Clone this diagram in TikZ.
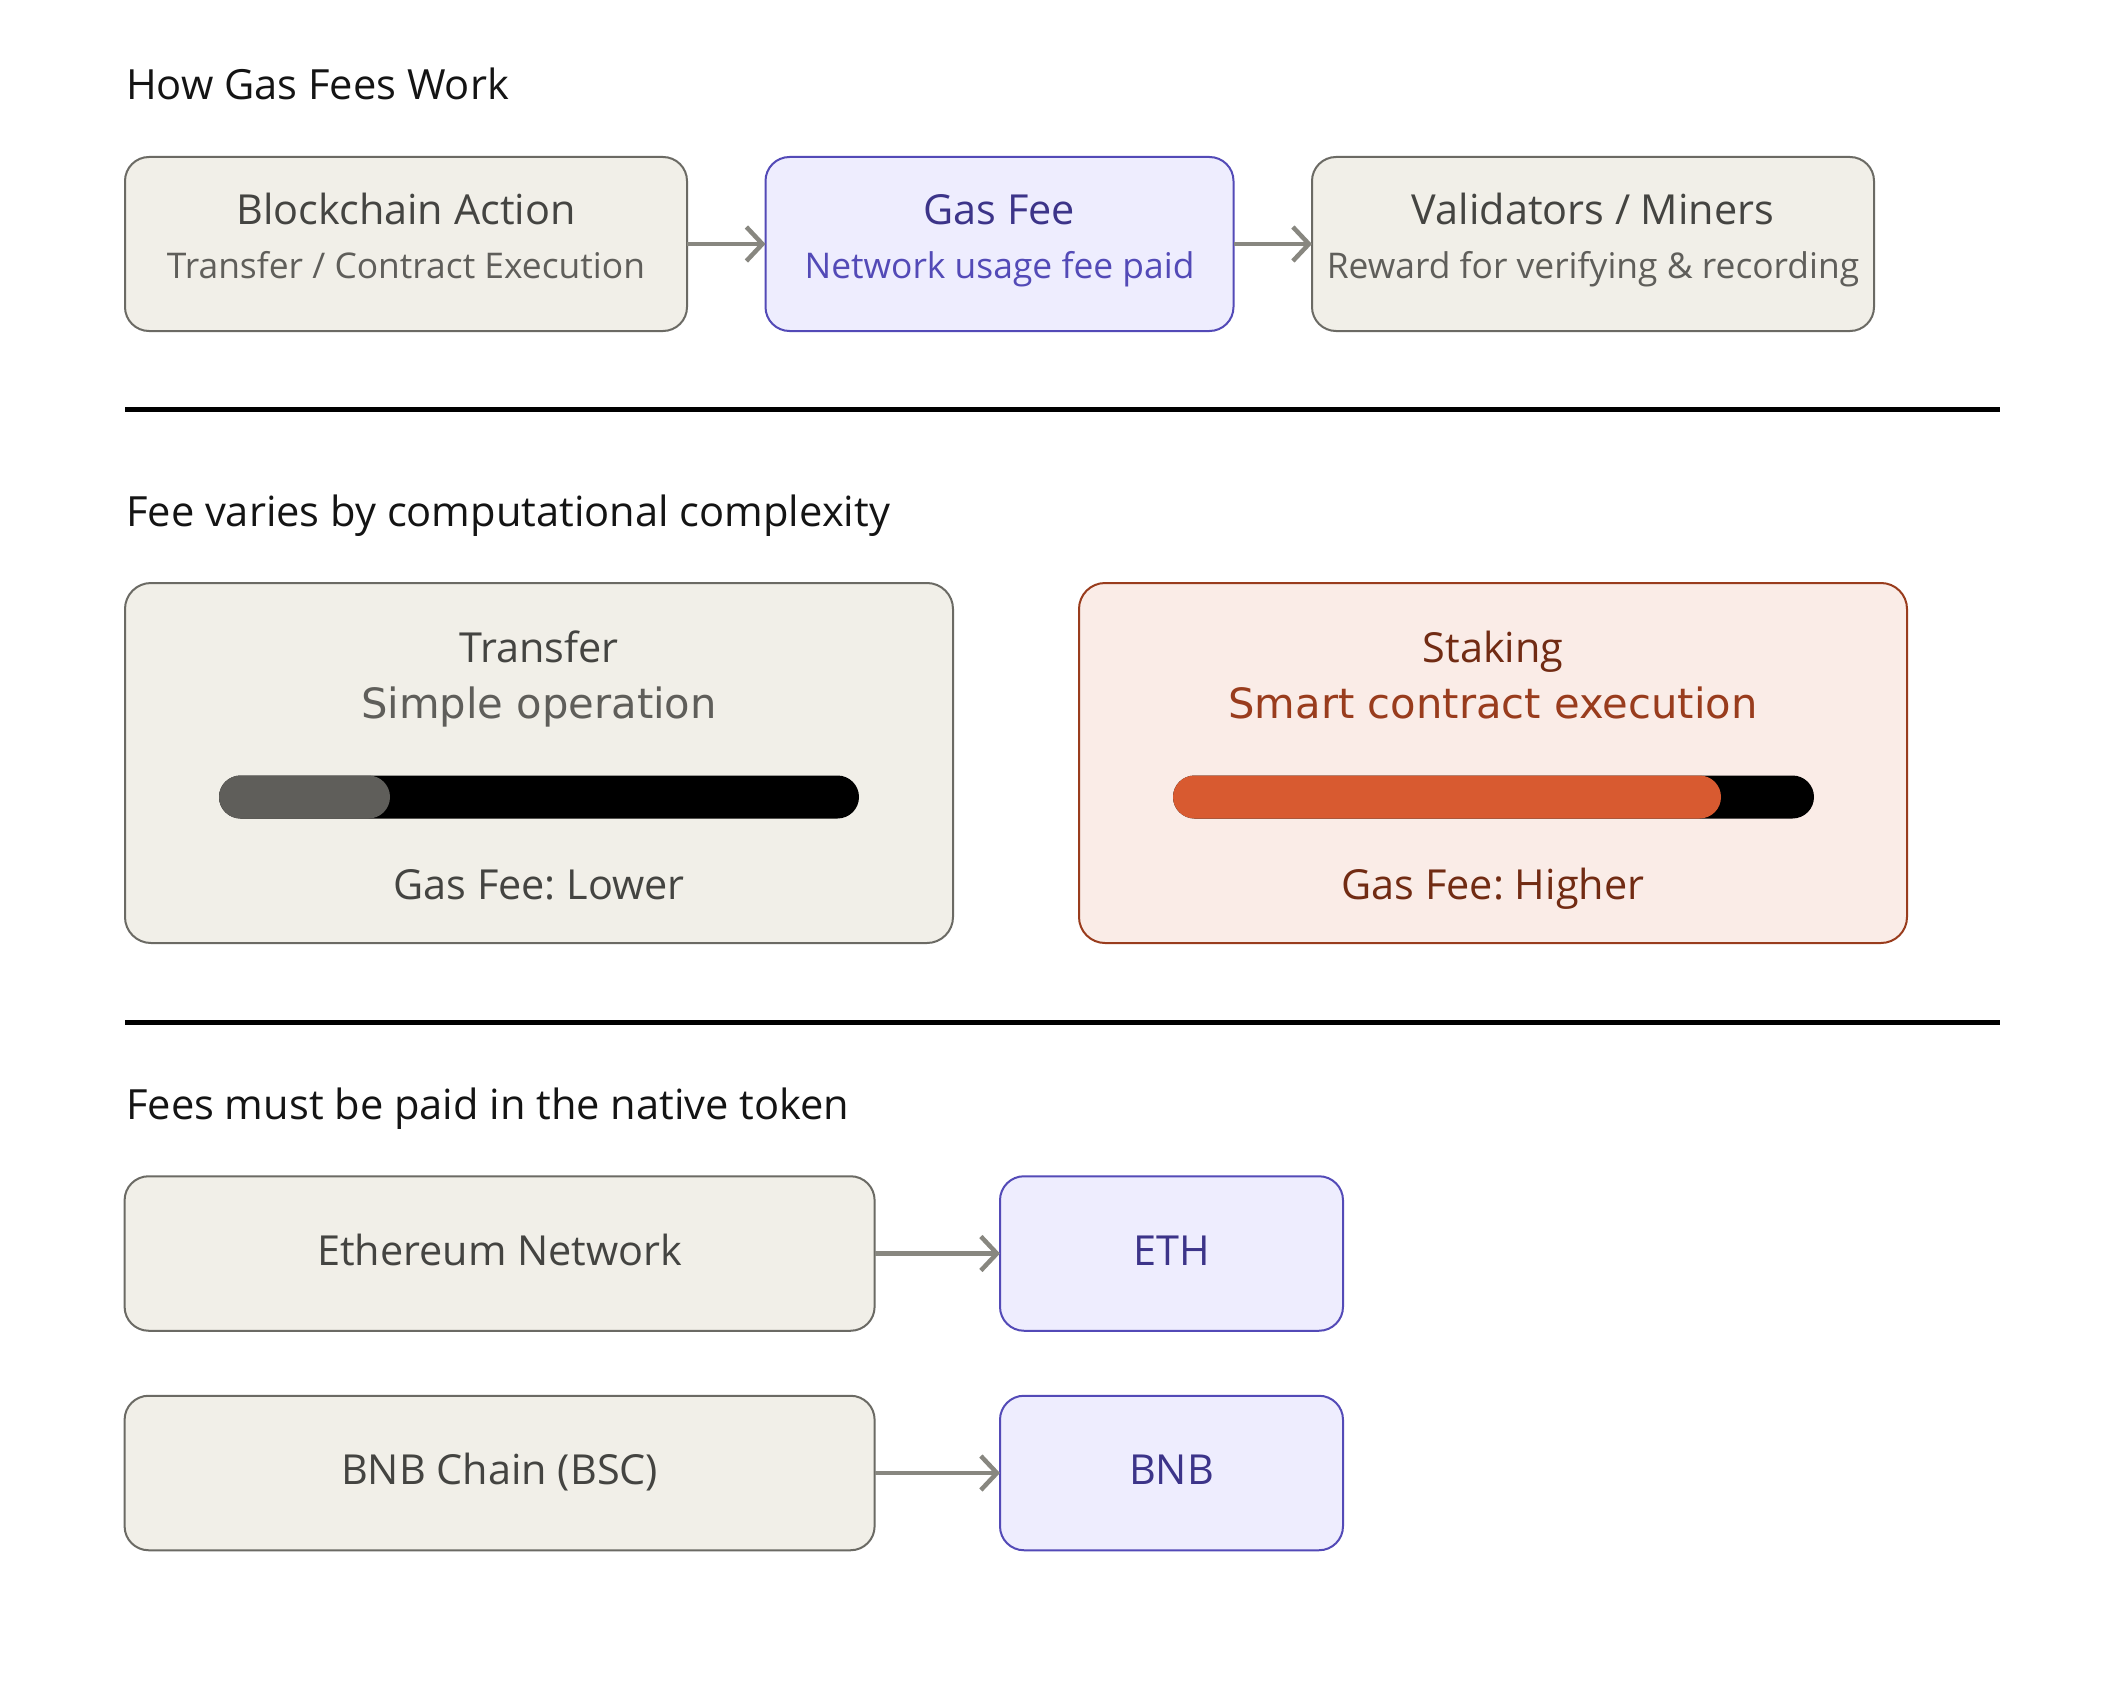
\documentclass[tikz,border=0pt]{standalone}
\usepackage{fontspec}
\setmainfont{Open Sans}
\newfontfamily\dvs{DejaVu Sans}
\usetikzlibrary{arrows.meta}
\frenchspacing
\definecolor{nfill}{HTML}{F1EFE8}
\definecolor{nline}{HTML}{6B6A64}
\definecolor{ntext}{HTML}{444441}
\definecolor{nsub}{HTML}{5F5E5A}
\definecolor{pfill}{HTML}{EEEDFE}
\definecolor{pline}{HTML}{534AB7}
\definecolor{ptext}{HTML}{3C3489}
\definecolor{cfill}{HTML}{FAECE7}
\definecolor{cline}{HTML}{993C1D}
\definecolor{ctext}{HTML}{712B13}
\definecolor{cbar}{HTML}{D85A30}
\definecolor{arrowc}{HTML}{888780}
\definecolor{titlec}{HTML}{141414}
\tikzset{
  boxbase/.style={rectangle, rounded corners=24pt, line width=2pt, inner sep=0pt, outer sep=0pt},
  nbox/.style={boxbase, draw=nline, fill=nfill},
  pbox/.style={boxbase, draw=pline, fill=pfill},
  cbox/.style={boxbase, draw=cline, fill=cfill, rounded corners=26pt},
  bigt/.style={font=\frenchspacing\fontsize{41.4}{48}\selectfont, anchor=base, inner sep=0pt},
  subt/.style={font=\frenchspacing\fontsize{35.4}{42}\selectfont, anchor=base, inner sep=0pt},
  dvt/.style={font=\frenchspacing\dvs\fontsize{41.7}{48}\selectfont, anchor=base, inner sep=0pt},
  sectitle/.style={font=\frenchspacing\fontsize{41.6}{48}\selectfont, anchor=base west, inner sep=0pt, text=titlec},
  flow/.style={draw=arrowc, line width=4.5pt, -{Straight Barb[length=16pt,width=34pt,line width=4.5pt]}},
  sep/.style={line width=5pt, black},
}
\begin{document}
\begin{tikzpicture}[x=1pt,y=-1pt]
\useasboundingbox (0,0) rectangle (2125,1688);
\fill[white] (0,0) rectangle (2125,1688);

% Section 1
\node[sectitle] (t1) at (126,100) {How Gas Fees Work};
\node[nbox, minimum width=562pt, minimum height=174pt] (b1) at (406,244) {};
\node[pbox, minimum width=468pt, minimum height=174pt] (b2) at (999.5,244) {};
\node[nbox, minimum width=562pt, minimum height=174pt] (b3) at (1593,244) {};
\node[bigt, text=ntext] (b1a) at (406,225) {Blockchain Action};
\node[subt, text=nsub] (b1b) at (406,279) {Transfer / Contract Execution};
\node[bigt, text=ptext] (b2a) at (999.5,225) {Gas Fee};
\node[subt, text=pline] (b2b) at (999.5,279) {Network usage fee paid};
\node[bigt, text=ntext] (b3a) at (1593,225) {Validators / Miners};
\node[subt, text=nsub] (b3b) at (1593,279) {Reward for verifying \& recording};
\draw[flow] (b1.east) -- (b2.west);
\draw[flow] (b2.east) -- (b3.west);

\coordinate (s1a) at (125,409);
\coordinate (s1b) at (2000,409);
\draw[sep] (s1a) -- (s1b);

% Section 2
\node[sectitle] (t2) at (126,526) {Fee varies by computational complexity};
\node[nbox, rounded corners=26pt, minimum width=828pt, minimum height=360pt] (L) at (539,763) {};
\node[cbox, minimum width=828pt, minimum height=360pt] (R) at (1493,763) {};
\node[bigt, text=ntext] (La) at (539,662) {Transfer};
\node[dvt, text=nsub] (Lb) at (539,718) {Simple operation};
\fill[black] (219,775.5) [rounded corners=21.5pt] rectangle (859,818.5);
\fill[nsub] (219,775.5) [rounded corners=21.5pt] rectangle (390,818.5);
\node[bigt, text=ntext] (Lc) at (539,899) {Gas Fee: Lower};
\node[bigt, text=ctext] (Ra) at (1493,662) {Staking};
\node[dvt, text=cline] (Rb) at (1493,718) {Smart contract execution};
\fill[black] (1173,775.5) [rounded corners=21.5pt] rectangle (1814,818.5);
\fill[cbar] (1173,775.5) [rounded corners=21.5pt] rectangle (1721,818.5);
\node[bigt, text=ctext] (Rc) at (1493,899) {Gas Fee: Higher};

\coordinate (s2a) at (125,1022);
\coordinate (s2b) at (2000,1022);
\draw[sep] (s2a) -- (s2b);

% Section 3
\node[sectitle] (t3) at (126,1119) {Fees must be paid in the native token};
\node[nbox, minimum width=750pt, minimum height=154.5pt] (eth) at (499.6,1253.5) {};
\node[pbox, minimum width=343pt, minimum height=154.5pt] (ethT) at (1171.5,1253.5) {};
\node[nbox, minimum width=750pt, minimum height=154.5pt] (bnb) at (499.6,1473) {};
\node[pbox, minimum width=343pt, minimum height=154.5pt] (bnbT) at (1171.5,1473) {};
\node[bigt, text=ntext] (etha) at (499.6,1265) {Ethereum Network};
\node[bigt, text=ptext] (ethTa) at (1171.5,1265) {ETH};
\node[bigt, text=ntext] (bnba) at (499.6,1484.5) {BNB Chain (BSC)};
\node[bigt, text=ptext] (bnbTa) at (1171.5,1484.5) {BNB};
\draw[flow] (eth.east) -- (ethT.west);
\draw[flow] (bnb.east) -- (bnbT.west);
\end{tikzpicture}
\end{document}
